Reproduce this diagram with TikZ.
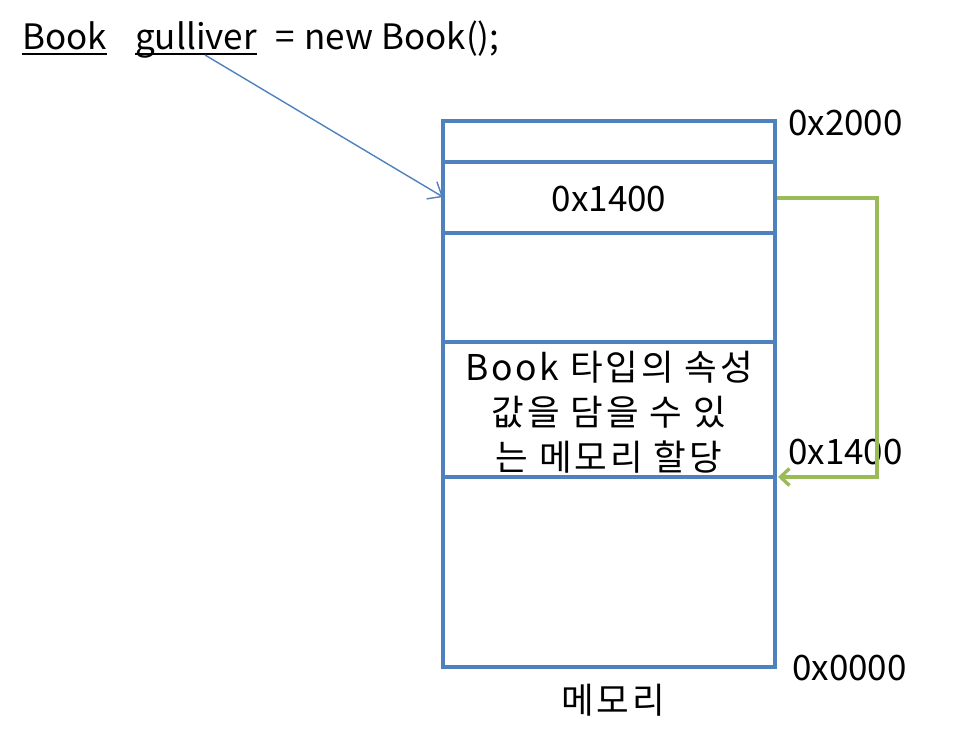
\documentclass[tikz,border=0pt]{standalone}
\usepackage{fontspec}
\setmainfont{Noto Sans CJK KR}
\newfontfamily\korwide[LetterSpace=8]{Noto Sans CJK KR}
\usetikzlibrary{arrows.meta}
\definecolor{memblue}{RGB}{79,129,189}
\definecolor{ptrgreen}{RGB}{155,187,89}
\tikzset{
  txt/.style={inner sep=0pt, font=\fontsize{35}{45}\selectfont},
  kor/.style={inner sep=0pt, font=\korwide\fontsize{35.5}{45}\selectfont},
  memline/.style={draw=memblue, line width=3.6pt},
  ptrarrow/.style={draw=memblue, line width=1.4pt, -{Straight Barb[length=12pt,width=20pt]}},
  refarrow/.style={draw=ptrgreen, line width=3.4pt, -{Straight Barb[length=9pt,width=17pt,line width=3.4pt]}},
}
\begin{document}
\begin{tikzpicture}[x=1pt,y=-1pt]
\useasboundingbox (0,0) rectangle (977,746);
% memory column
\coordinate (tl) at (443,121);
\coordinate (br) at (775,667);
\draw[memline] (tl) rectangle (br);
\draw[memline] (443,162) rectangle (775,233);
\draw[memline] (443,342) -- (775,342);
\draw[memline] (443,477) -- (775,477);
\node[txt] (ptrval) at (609,199) {0x1400};
\node[kor, align=center] (obj) at (609,412) {Book 타입의 속성\\값을 담을 수 있\\는 메모리 할당};
\node[kor] (mem) at (613,700) {메모리};
\node[txt, anchor=west] (a2000) at (788,123) {0x2000};
\node[txt, anchor=west] (a1400) at (788,452) {0x1400};
\node[txt, anchor=west] (a0000) at (792,668) {0x0000};
% code line
\node[txt, anchor=base west] (book) at (22,50) {Book};
\node[txt, anchor=base west] (gul) at (135,50) {gulliver};
\node[txt, anchor=base west] (rest) at (275,50) {=\hspace{10pt}new Book();};
\draw[line width=1.5pt] ([yshift=-4]book.base west) -- ([yshift=-4]book.base east);
\draw[line width=1.5pt] ([yshift=-4]gul.base west) -- ([yshift=-4]gul.base east);
\coordinate (gstart) at (205,55);
\coordinate (slot) at (443,197);
\draw[ptrarrow] (gstart) -- (slot);
% reference arrow
\coordinate (gfrom) at (777,198);
\coordinate (gto) at (778,477);
\draw[refarrow] (gfrom) -- (877,198) -- (877,477) -- (gto);
\end{tikzpicture}
\end{document}
